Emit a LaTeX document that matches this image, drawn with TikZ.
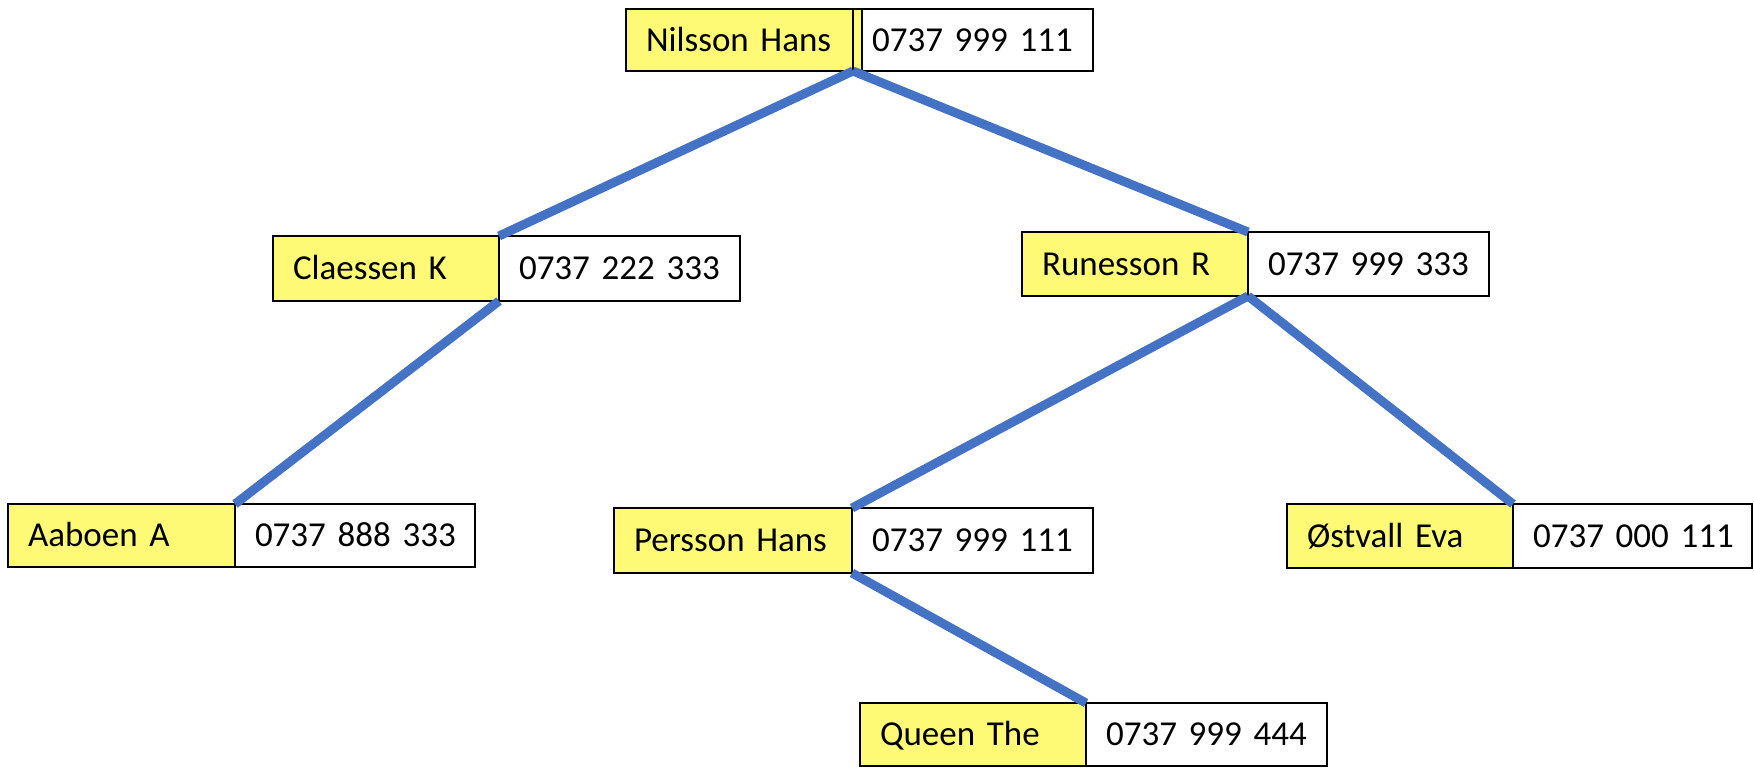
\documentclass[tikz,border=0pt]{standalone}
\usepackage{fontspec}
\setmainfont{Carlito}
\definecolor{nameyellow}{RGB}{255,250,117}
\definecolor{linkblue}{RGB}{68,114,196}
% One unit = one pixel, y grows downwards
\tikzset{
  cell/.style={draw=black, line width=1.2pt, outer sep=0pt, anchor=north west,
    inner ysep=0pt, align=left, text height=11pt, text depth=0pt,
    font=\fontsize{17.5}{20}\selectfont},
  namebox/.style={cell, fill=nameyellow, inner xsep=10pt},
  phonebox/.style={cell, fill=white, inner xsep=10pt},
  link/.style={draw=linkblue, line width=4.5pt},
}
% \person{id}{x}{y}{name width}{phone width}{height}{name}{phone}
\newcommand\person[8]{%
  \pgfmathsetlengthmacro\nw{(#4-40)*0.5pt}%
  \pgfmathsetlengthmacro\pw{(#5-40)*0.5pt}%
  \pgfmathsetlengthmacro\hh{#6*0.5pt}%
  \node[namebox, text width=\nw, minimum height=\hh] (#1) at (#2,#3) {\mbox{#7}};
  \node[phonebox, text width=\pw, minimum height=\hh] (#1p) at (#1.north east) {\mbox{#8}};
}
\begin{document}
\begin{tikzpicture}[x=0.5pt,y=-0.5pt]
  \useasboundingbox (0,0) rectangle (1754,768);
  % root entry with its narrow divider cell
  \node[namebox, text width=93.5pt, minimum height=31pt] (nilsson) at (626,9) {\mbox{Nilsson Hans}};
  \node[namebox, inner xsep=0pt, text width=4.5pt, minimum height=31pt] (nilssons) at (nilsson.north east) {};
  \node[phonebox, inner xsep=5pt, text width=105.5pt, minimum height=31pt] (nilssonp) at (nilssons.north east) {\mbox{0737 999 111}};
  \person{claessen}{273}{236}{226}{241}{65}{Claessen K}{0737 222 333}
  \person{runesson}{1022}{232}{226}{241}{64}{Runesson R}{0737 999 333}
  \person{aaboen}{8}{504}{227}{240}{63}{Aaboen A}{0737 888 333}
  \person{persson}{614}{508}{238}{241}{65}{Persson Hans}{0737 999 111}
  \person{ostvall}{1287}{504}{226}{239}{64}{Østvall Eva}{0737 000 111}
  \person{queen}{860}{703}{226}{241}{63}{Queen The}{0737 999 444}
  % tree links
  \draw[link] (nilsson.south east) -- (claessen.north east);
  \draw[link] (nilsson.south east) -- (runesson.north east);
  \draw[link] (claessen.south east) -- (aaboen.north east);
  \draw[link] (runesson.south east) -- (persson.north east);
  \draw[link] (runesson.south east) -- (ostvall.north east);
  \draw[link] (persson.south east) -- (queen.north east);
\end{tikzpicture}
\end{document}
